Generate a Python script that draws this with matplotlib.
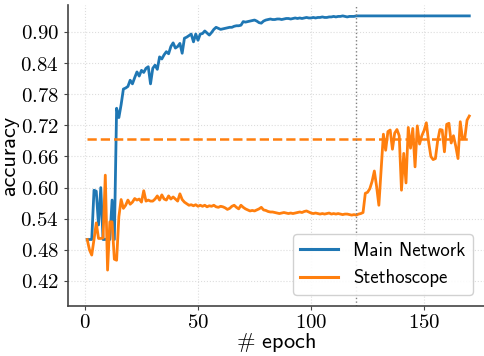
import numpy as np
import matplotlib
matplotlib.use("Agg")
import matplotlib.pyplot as plt

plt.rcParams['mathtext.fontset'] = 'cm'
plt.rcParams['font.family'] = 'cmss10'
plt.rcParams['axes.unicode_minus'] = False

# epochs 1..170
epochs = np.arange(1, 171)

main_net = [
    0.500, 0.500, 0.500, 0.595, 0.593, 0.528, 0.600, 0.500, 0.500, 0.502,
    0.500, 0.576, 0.500, 0.753, 0.735, 0.760, 0.790, 0.792, 0.795, 0.807,
    0.800, 0.812, 0.823, 0.815, 0.826, 0.822, 0.830, 0.833, 0.800, 0.830,
    0.836, 0.828, 0.852, 0.848, 0.856, 0.862, 0.858, 0.872, 0.879, 0.869,
    0.872, 0.878, 0.859, 0.888, 0.890, 0.893, 0.896, 0.881, 0.896, 0.884,
    0.896, 0.897, 0.902, 0.898, 0.894, 0.899, 0.905, 0.909, 0.907, 0.905,
    0.906, 0.907, 0.908, 0.909, 0.909, 0.911, 0.912, 0.912, 0.913, 0.920,
    0.919, 0.920, 0.921, 0.922, 0.923, 0.921, 0.918, 0.917, 0.921, 0.923,
    0.924, 0.925, 0.924, 0.924, 0.925, 0.925, 0.924, 0.925, 0.926, 0.926,
    0.925, 0.926, 0.927, 0.926, 0.927, 0.926, 0.927, 0.928, 0.927, 0.927,
    0.928, 0.927, 0.928, 0.928, 0.929, 0.928, 0.928, 0.929, 0.929, 0.930,
    0.929, 0.930, 0.930, 0.931, 0.930, 0.929, 0.930, 0.930, 0.930, 0.931,
    0.931, 0.931, 0.931, 0.931, 0.931, 0.931, 0.931, 0.931, 0.931, 0.931,
    0.931, 0.931, 0.931, 0.931, 0.931, 0.931, 0.931, 0.931, 0.931, 0.931,
    0.931, 0.931, 0.931, 0.931, 0.931, 0.931, 0.931, 0.931, 0.931, 0.931,
    0.931, 0.931, 0.931, 0.931, 0.931, 0.931, 0.931, 0.931, 0.931, 0.931,
    0.931, 0.931, 0.931, 0.931, 0.931, 0.931, 0.931, 0.931, 0.931, 0.931,
]

stethoscope = [
    0.500, 0.480, 0.470, 0.500, 0.532, 0.502, 0.502, 0.503, 0.624, 0.441,
    0.534, 0.534, 0.462, 0.460, 0.544, 0.577, 0.560, 0.566, 0.576, 0.568,
    0.572, 0.579, 0.576, 0.578, 0.572, 0.594, 0.574, 0.576, 0.574, 0.574,
    0.578, 0.584, 0.576, 0.586, 0.578, 0.576, 0.584, 0.578, 0.582, 0.578,
    0.574, 0.588, 0.577, 0.572, 0.569, 0.566, 0.567, 0.565, 0.567, 0.564,
    0.566, 0.564, 0.566, 0.563, 0.565, 0.564, 0.566, 0.563, 0.562, 0.564,
    0.563, 0.561, 0.558, 0.560, 0.564, 0.566, 0.562, 0.559, 0.566, 0.562,
    0.559, 0.557, 0.555, 0.556, 0.555, 0.557, 0.559, 0.562, 0.557, 0.556,
    0.554, 0.553, 0.553, 0.552, 0.551, 0.550, 0.551, 0.552, 0.551, 0.550,
    0.551, 0.550, 0.551, 0.552, 0.553, 0.552, 0.554, 0.555, 0.553, 0.551,
    0.550, 0.551, 0.550, 0.549, 0.550, 0.549, 0.550, 0.551, 0.549, 0.550,
    0.549, 0.550, 0.549, 0.548, 0.549, 0.549, 0.548, 0.547, 0.548, 0.547,
    0.549, 0.550, 0.552, 0.589, 0.591, 0.598, 0.612, 0.632, 0.602, 0.566,
    0.634, 0.703, 0.672, 0.708, 0.711, 0.674, 0.705, 0.712, 0.700, 0.595,
    0.666, 0.609, 0.716, 0.676, 0.714, 0.640, 0.719, 0.684, 0.700, 0.710,
    0.725, 0.688, 0.660, 0.654, 0.656, 0.690, 0.712, 0.711, 0.669, 0.722,
    0.724, 0.686, 0.700, 0.680, 0.656, 0.727, 0.694, 0.695, 0.730, 0.738,
]

baseline = 0.694      # dashed reference level
switch_epoch = 120    # dotted vertical marker
yticks = [0.42, 0.48, 0.54, 0.60, 0.66, 0.72, 0.78, 0.84, 0.90]
xticks = [0, 50, 100, 150]

fig = plt.figure(figsize=(4.84, 3.56), dpi=100)
ax = fig.add_axes([68/484, 50/356, 1 - 68/484, 301/356])

ax.grid(True, color='#dddddd', linestyle=':', linewidth=0.8)
ax.set_axisbelow(True)

ax.plot(epochs, main_net, color='#1f77b4', linewidth=2, label=r'Main Network')
ax.plot(epochs, stethoscope, color='#ff7f0e', linewidth=2, label=r'Stethoscope')
ax.hlines(baseline, epochs[0], epochs[-1], colors='#ff7f0e', linestyles='--', linewidth=1.8)
ax.axvline(switch_epoch, color='gray', linestyle=':', linewidth=1)

ax.set_xlim(-7.5, 176.5)
ax.set_ylim(0.3718, 0.952)
ax.set_xticks(xticks)
ax.set_yticks(yticks)
ax.set_xticklabels([f'${t}$' for t in xticks], fontsize=15)
ax.set_yticklabels([f'${t:.2f}$' for t in yticks], fontsize=15)

ax.set_xlabel(r'$\#$ epoch', fontsize=16, labelpad=-1)
ax.set_ylabel('accuracy', fontsize=16, labelpad=1)

for side in ['top', 'right']:
    ax.spines[side].set_visible(False)
for side in ['left', 'bottom']:
    ax.spines[side].set_color('#444444')
    ax.spines[side].set_linewidth(1.2)
ax.tick_params(colors='#444444', labelcolor='black', length=3)
ax.tick_params(axis='x', pad=2)

leg = ax.legend(loc='lower right', fontsize=13.5, framealpha=0.9,
                edgecolor='#cccccc', borderaxespad=0.6, handlelength=2.0)
for line in leg.get_lines():
    line.set_linewidth(2.2)

fig.savefig('out.png', dpi=100)
